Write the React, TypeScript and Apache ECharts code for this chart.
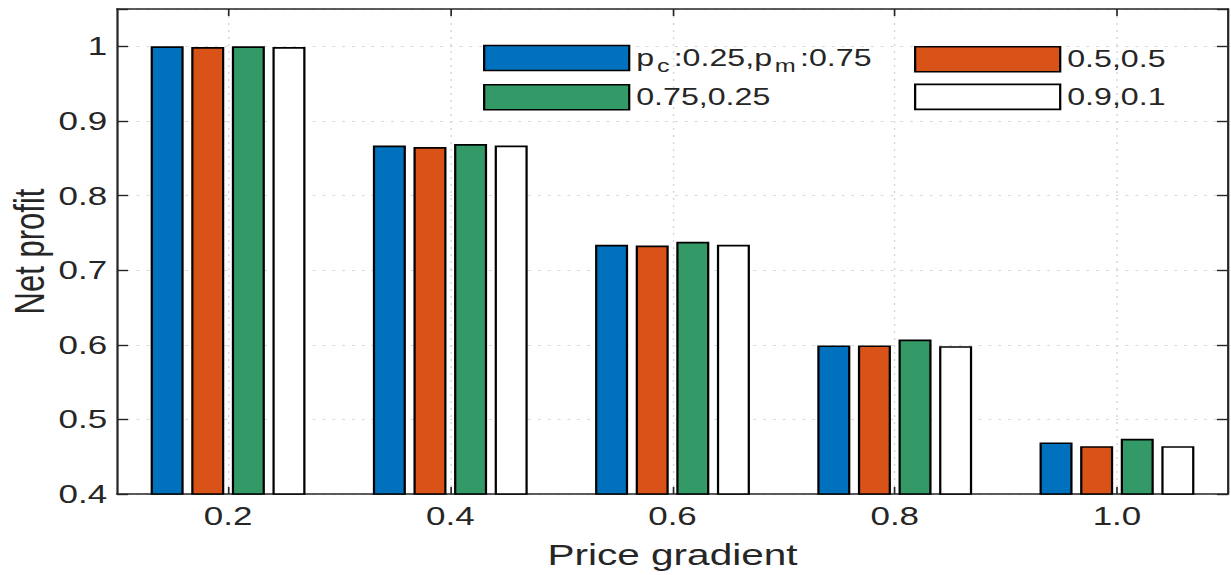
import React, { useEffect, useRef } from "react";
import * as echarts from "echarts";

// Price gradient categories and net profit per (pc, pm) setting
const categories = ["0.2", "0.4", "0.6", "0.8", "1.0"];
const seriesNames = ["pc:0.25,pm:0.75", "0.5,0.5", "0.75,0.25", "0.9,0.1"];
const profitA = [1.0, 0.867, 0.734, 0.599, 0.469];
const profitB = [0.999, 0.865, 0.733, 0.599, 0.464];
const profitC = [1.0, 0.869, 0.738, 0.607, 0.474];
const profitD = [0.999, 0.867, 0.734, 0.598, 0.464];
const seriesValues = [profitA, profitB, profitC, profitD];
const seriesColors = ["#0072BD", "#D95319", "#339966", "#FFFFFF"];
const yTicks = [0.4, 0.5, 0.6, 0.7, 0.8, 0.9, 1.0];

// The figure is drawn on a narrower canvas and widened horizontally
const BASE_W = 880;
const H = 575;
const STRETCH = 1231 / BASE_W;

const FONT = "'Liberation Sans', Arial, Helvetica, sans-serif";
const INK = "#262626";

export default function App() {
  const ref = useRef<HTMLDivElement>(null);

  useEffect(() => {
    if (!ref.current) return;
    const chart = echarts.init(ref.current, undefined, { renderer: "svg" });

    const axisLine = { show: true, lineStyle: { color: INK, width: 1.6 } };
    const gridLine = { color: "#d6d6d6", width: 1, type: [2, 5] as number[] };

    const yLabel = (v: number) => {
      const hit = yTicks.find((t) => Math.abs(t - v) < 1e-6);
      if (hit === undefined) return "";
      return hit === 1 ? "1" : hit.toFixed(1);
    };

    const legendCommon = {
      orient: "vertical" as const,
      padding: 0,
      itemWidth: 103.7,
      itemHeight: 25,
      selectedMode: false,
      icon: "rect",
      itemStyle: { borderColor: "#000", borderWidth: 1.6 },
      textStyle: {
        fontFamily: FONT,
        fontSize: 23,
        color: INK,
        lineHeight: 25,
        rich: {
          s: { fontFamily: FONT, fontSize: 18, color: INK, lineHeight: 25, padding: [16, 3, 0, 2] },
        },
      },
      formatter: (name: string) =>
        name.startsWith("pc:") ? "p{s|c}:0.25,p{s|m}:0.75" : name,
    };

    chart.setOption({
      animation: false,
      backgroundColor: "#ffffff",
      grid: { left: 83.6, right: 2.1, top: 9, bottom: 81, containLabel: false, outerBoundsMode: "none" },
      legend: [
        { ...legendCommon, left: 345.3, top: 41, itemGap: 9, data: [seriesNames[0], seriesNames[2]] },
        { ...legendCommon, left: 653.4, top: 46, itemGap: 11, data: [seriesNames[1], seriesNames[3]] },
      ],
      xAxis: [
        {
          type: "category",
          data: categories,
          position: "bottom",
          axisLine,
          axisTick: { show: true, inside: true, alignWithLabel: true, length: 7, lineStyle: { color: INK, width: 1.2 } },
          axisLabel: { fontFamily: FONT, fontSize: 25, color: INK, margin: 9 },
          splitLine: { show: true, alignWithLabel: true, lineStyle: gridLine },
          name: "Price gradient",
          nameLocation: "middle",
          nameGap: 46,
          nameTextStyle: { fontFamily: FONT, fontSize: 29, color: INK },
        },
        {
          type: "category",
          data: categories,
          position: "top",
          axisLine,
          axisTick: { show: true, inside: true, alignWithLabel: true, length: 7, lineStyle: { color: INK, width: 1.2 } },
          axisLabel: { show: false },
          splitLine: { show: false },
        },
      ],
      yAxis: [
        {
          type: "value",
          min: 0.4,
          max: 1.05,
          interval: 0.1,
          position: "left",
          axisLine,
          axisTick: { show: true, inside: true, length: 8, lineStyle: { color: INK, width: 1.4 } },
          axisLabel: { fontFamily: FONT, fontSize: 25, color: INK, margin: 7, formatter: yLabel },
          splitLine: { show: true, lineStyle: gridLine },
          name: "Net profit",
          nameLocation: "middle",
          nameGap: 47,
          nameMoveOverlap: false,
          nameTextStyle: { fontFamily: FONT, fontSize: 31, lineHeight: 32, color: INK },
        },
        {
          type: "value",
          min: 0.4,
          max: 1.05,
          interval: 0.1,
          position: "right",
          axisLine,
          axisTick: { show: true, inside: true, length: 8, lineStyle: { color: INK, width: 1.4 } },
          axisLabel: { show: false },
          splitLine: { show: false },
        },
      ],
      series: seriesNames.map((name, i) => ({
        name,
        type: "bar",
        xAxisIndex: 0,
        yAxisIndex: 0,
        data: seriesValues[i],
        barWidth: 23.6,
        barGap: "23%",
        itemStyle: { color: seriesColors[i], borderColor: "#000", borderWidth: 1.6 },
      })),
    });

    return () => chart.dispose();
  }, []);

  return (
    <div
      style={{
        position: "fixed",
        left: 0,
        top: 0,
        width: 1231,
        height: H,
        overflow: "hidden",
        background: "#fff",
      }}
    >
      <div
        ref={ref}
        style={{
          width: BASE_W,
          height: H,
          transform: `scaleX(${STRETCH})`,
          transformOrigin: "0 0",
        }}
      />
    </div>
  );
}
